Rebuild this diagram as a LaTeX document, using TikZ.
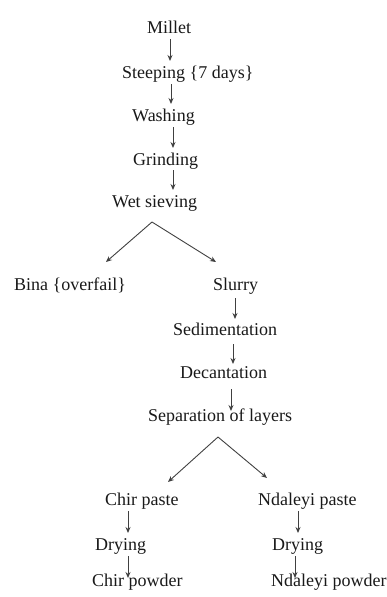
\documentclass[tikz,border=0pt]{standalone}
\usepackage{fontspec}
\setmainfont{Liberation Serif}
\usetikzlibrary{arrows.meta}
\begin{document}
\begin{tikzpicture}[x=1pt,y=1pt,
  lbl/.style={anchor=base west,inner sep=0pt,font=\fontsize{18}{20}\selectfont,text=black!90},
  arr/.style={draw=black!75,line width=0.9pt,-{Stealth[length=6pt,width=5pt]}}]
\useasboundingbox (0,0) rectangle (386,-597);
\node[lbl] (millet) at (147,-33) {Millet};
\node[lbl] (steep) at (122,-78) {Steeping \{7 days\}};
\node[lbl] (wash) at (132,-121) {Washing};
\node[lbl] (grind) at (133,-165) {Grinding};
\node[lbl] (wet) at (112,-207) {Wet sieving};
\node[lbl] (bina) at (14,-290) {Bina \{overfail\}};
\node[lbl] (slurry) at (213,-290) {Slurry};
\node[lbl] (sed) at (173,-335) {Sedimentation};
\node[lbl] (dec) at (180,-378) {Decantation};
\node[lbl] (sep) at (148,-421) {Separation of layers};
\node[lbl] (chirp) at (105,-505) {Chir paste};
\node[lbl] (ndp) at (258,-505) {Ndaleyi paste};
\node[lbl] (dryl) at (95,-550) {Drying};
\node[lbl] (dryr) at (272,-550) {Drying};
\node[lbl] (chirpow) at (92,-586) {Chir powder};
\node[lbl] (ndpow) at (271,-586) {Ndaleyi powder};
% arrow end points
\coordinate (a1s) at (170,-39);  \coordinate (a1e) at (170,-61);
\coordinate (a2s) at (171,-84);  \coordinate (a2e) at (171,-104);
\coordinate (a3s) at (173,-127); \coordinate (a3e) at (173,-148);
\coordinate (a4s) at (173,-170); \coordinate (a4e) at (173,-190);
\coordinate (ap1) at (152,-222);
\coordinate (binaE) at (106,-262);
\coordinate (slurE) at (216,-262);
\coordinate (a6s) at (235,-298); \coordinate (a6e) at (235,-319);
\coordinate (a7s) at (233,-344); \coordinate (a7e) at (233,-364);
\coordinate (a8s) at (231,-389); \coordinate (a8e) at (231,-411);
\coordinate (ap2) at (218,-437);
\coordinate (chirE) at (168,-482);
\coordinate (ndE) at (267,-478);
\coordinate (a10s) at (128,-511); \coordinate (a10e) at (128,-533);
\coordinate (a11s) at (128,-556); \coordinate (a11e) at (128,-578);
\coordinate (a12s) at (298,-511); \coordinate (a12e) at (298,-533);
\coordinate (a13s) at (295,-556); \coordinate (a13e) at (295,-578);
\draw[arr] (a1s) -- (a1e);
\draw[arr] (a2s) -- (a2e);
\draw[arr] (a3s) -- (a3e);
\draw[arr] (a4s) -- (a4e);
\draw[arr] (ap1) -- (binaE);
\draw[arr] (ap1) -- (slurE);
\draw[arr] (a6s) -- (a6e);
\draw[arr] (a7s) -- (a7e);
\draw[arr] (a8s) -- (a8e);
\draw[arr] (ap2) -- (chirE);
\draw[arr] (ap2) -- (ndE);
\draw[arr] (a10s) -- (a10e);
\draw[arr] (a11s) -- (a11e);
\draw[arr] (a12s) -- (a12e);
\draw[arr] (a13s) -- (a13e);
\end{tikzpicture}
\end{document}
